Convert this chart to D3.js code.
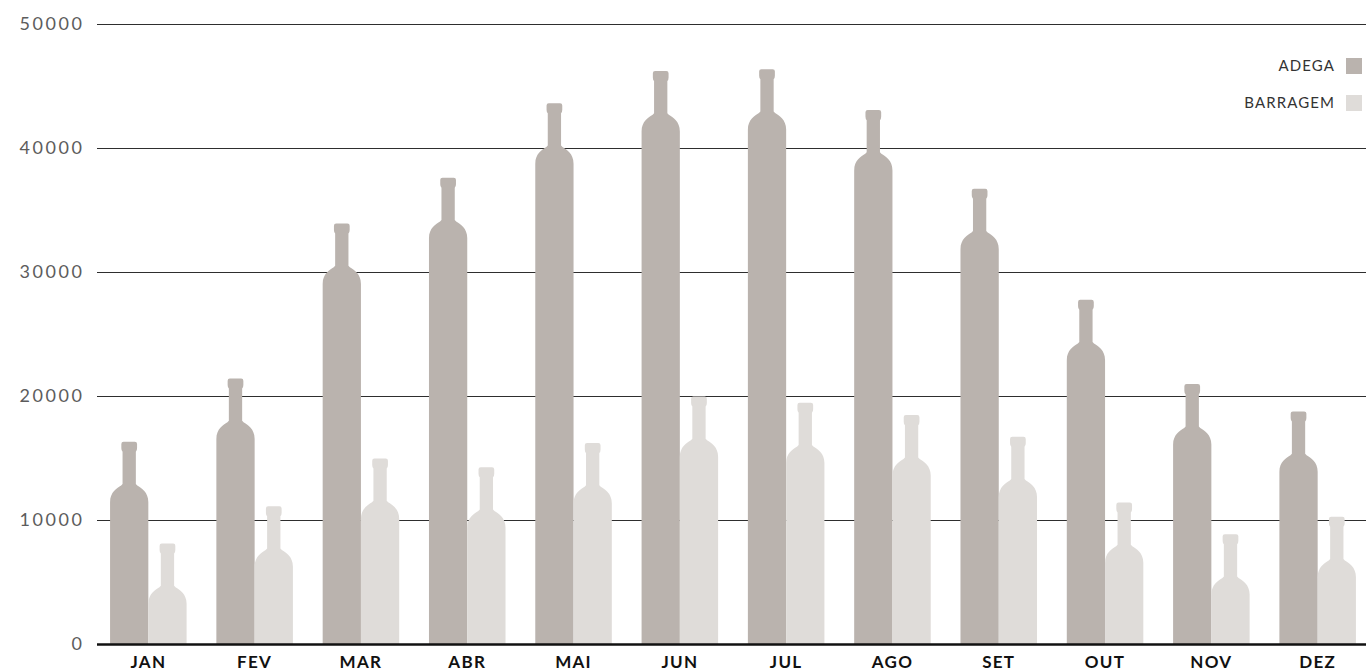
<!DOCTYPE html>
<html>
<head>
<meta charset="utf-8">
<script src="https://cdn.jsdelivr.net/npm/d3@7"></script>
<style>
  html, body { margin: 0; padding: 0; background: #ffffff; }
  svg { display: block; }
</style>
</head>
<body>
<svg id="chart" width="1366" height="672"></svg>
<script>
// Monthly volumes, two series
const months = ["JAN", "FEV", "MAR", "ABR", "MAI", "JUN", "JUL", "AGO", "SET", "OUT", "NOV", "DEZ"];
const adega = [16350, 21450, 33950, 37650, 43650, 46250, 46400, 43100, 36750, 27800, 21000, 18800];
const barragem = [8150, 11150, 15000, 14300, 16250, 20000, 19500, 18500, 16750, 11450, 8900, 10300];
const seriesNames = ["ADEGA", "BARRAGEM"];
const seriesColors = ["#bab3ae", "#dfdcd9"];
const yTicks = [0, 10000, 20000, 30000, 40000, 50000];

const W = 1366, H = 672;
const svg = d3.select("#chart");

const gridLeft = 97;
const y = d3.scaleLinear().domain([0, 50000]).range([644.5, 24.5]);
const x = d3.scaleBand().domain(months).range([98, 1368]).paddingInner(0.28).paddingOuter(0.1135);
const xSub = d3.scaleBand().domain(seriesNames).range([0, x.bandwidth()]).padding(0);
const color = d3.scaleOrdinal().domain(seriesNames).range(seriesColors);

// Horizontal gridlines with value labels
const yAxis = svg.append("g")
  .attr("transform", `translate(${gridLeft},0)`)
  .call(d3.axisLeft(y).tickValues(yTicks).tickSize(-(W - gridLeft)).tickPadding(15)
    .offset(0).tickFormat(d3.format("d")));
yAxis.select(".domain").remove();
yAxis.selectAll(".tick line")
  .attr("stroke", (d) => d === 0 ? "none" : "#2e2e2e")
  .attr("stroke-width", 1);
yAxis.selectAll(".tick text")
  .attr("fill", "#5c5c5c")
  .style("font-family", "Lato, 'Open Sans', sans-serif")
  .style("font-weight", 400)
  .style("font-size", "18px")
  .style("letter-spacing", "2.6px")
  .attr("dx", "2.6px");

// Bottle silhouette: lip, neck, shoulder and body down to the baseline
function bottlePath(x0, w, yTop, yBot) {
  const k = w / 38;
  const cx = x0 + w / 2, hw = w / 2;
  const lip = 7.8 * k, neck = 6.6 * k, r = 2.2 * k;
  const p = d3.path();
  p.moveTo(cx - lip + r, yTop);
  p.lineTo(cx + lip - r, yTop);
  p.quadraticCurveTo(cx + lip, yTop, cx + lip, yTop + r);
  p.lineTo(cx + lip, yTop + 6.5 * k);
  p.quadraticCurveTo(cx + lip, yTop + 9 * k, cx + neck, yTop + 10 * k);
  p.lineTo(cx + neck, yTop + 42 * k);
  p.lineTo(cx + 8 * k, yTop + 43.5 * k);
  p.bezierCurveTo(cx + 12 * k, yTop + 46 * k, cx + hw, yTop + 50 * k, cx + hw, yTop + 60 * k);
  p.lineTo(cx + hw, yBot);
  p.lineTo(cx - hw, yBot);
  p.lineTo(cx - hw, yTop + 60 * k);
  p.bezierCurveTo(cx - hw, yTop + 50 * k, cx - 12 * k, yTop + 46 * k, cx - 8 * k, yTop + 43.5 * k);
  p.lineTo(cx - neck, yTop + 42 * k);
  p.lineTo(cx - neck, yTop + 10 * k);
  p.quadraticCurveTo(cx - lip, yTop + 9 * k, cx - lip, yTop + 6.5 * k);
  p.lineTo(cx - lip, yTop + r);
  p.quadraticCurveTo(cx - lip, yTop, cx - lip + r, yTop);
  p.closePath();
  return p.toString();
}

const rows = months.map((m, i) => ({ month: m, values: [
  { key: "ADEGA", value: adega[i] },
  { key: "BARRAGEM", value: barragem[i] }
]}));

const groups = svg.append("g").selectAll("g")
  .data(rows)
  .join("g")
  .attr("transform", (d) => `translate(${x(d.month)},0)`);

groups.selectAll("path")
  .data((d) => d.values)
  .join("path")
  .attr("fill", (d) => color(d.key))
  .attr("d", (d) => bottlePath(xSub(d.key), xSub.bandwidth(), y(d.value), y(0)));

// Baseline
svg.append("line")
  .attr("x1", gridLeft).attr("x2", W)
  .attr("y1", y(0)).attr("y2", y(0))
  .attr("stroke", "#111111")
  .attr("stroke-width", 2.5);

// Month labels
const xAxis = svg.append("g")
  .attr("transform", `translate(0,${y(0)})`)
  .call(d3.axisBottom(x).tickSize(0).tickPadding(11.5).offset(0));
xAxis.select(".domain").remove();
xAxis.selectAll(".tick text")
  .attr("fill", "#111111")
  .style("font-family", "Lato, 'Open Sans', sans-serif")
  .style("font-weight", 700)
  .style("font-size", "17px")
  .style("letter-spacing", "1.3px");

// Legend
const legend = svg.append("g").selectAll("g")
  .data(seriesNames)
  .join("g")
  .attr("transform", (d, i) => `translate(0,${66 + i * 37})`);
legend.append("rect")
  .attr("x", 1346).attr("y", -8)
  .attr("width", 16).attr("height", 16)
  .attr("fill", (d) => color(d));
legend.append("text")
  .attr("x", 1335).attr("y", 0)
  .attr("dy", "0.35em")
  .attr("text-anchor", "end")
  .attr("fill", "#333333")
  .style("font-family", "Lato, 'Open Sans', sans-serif")
  .style("font-weight", 400)
  .style("font-size", "15px")
  .style("letter-spacing", "1.1px")
  .text((d) => d);
</script>
</body>
</html>
